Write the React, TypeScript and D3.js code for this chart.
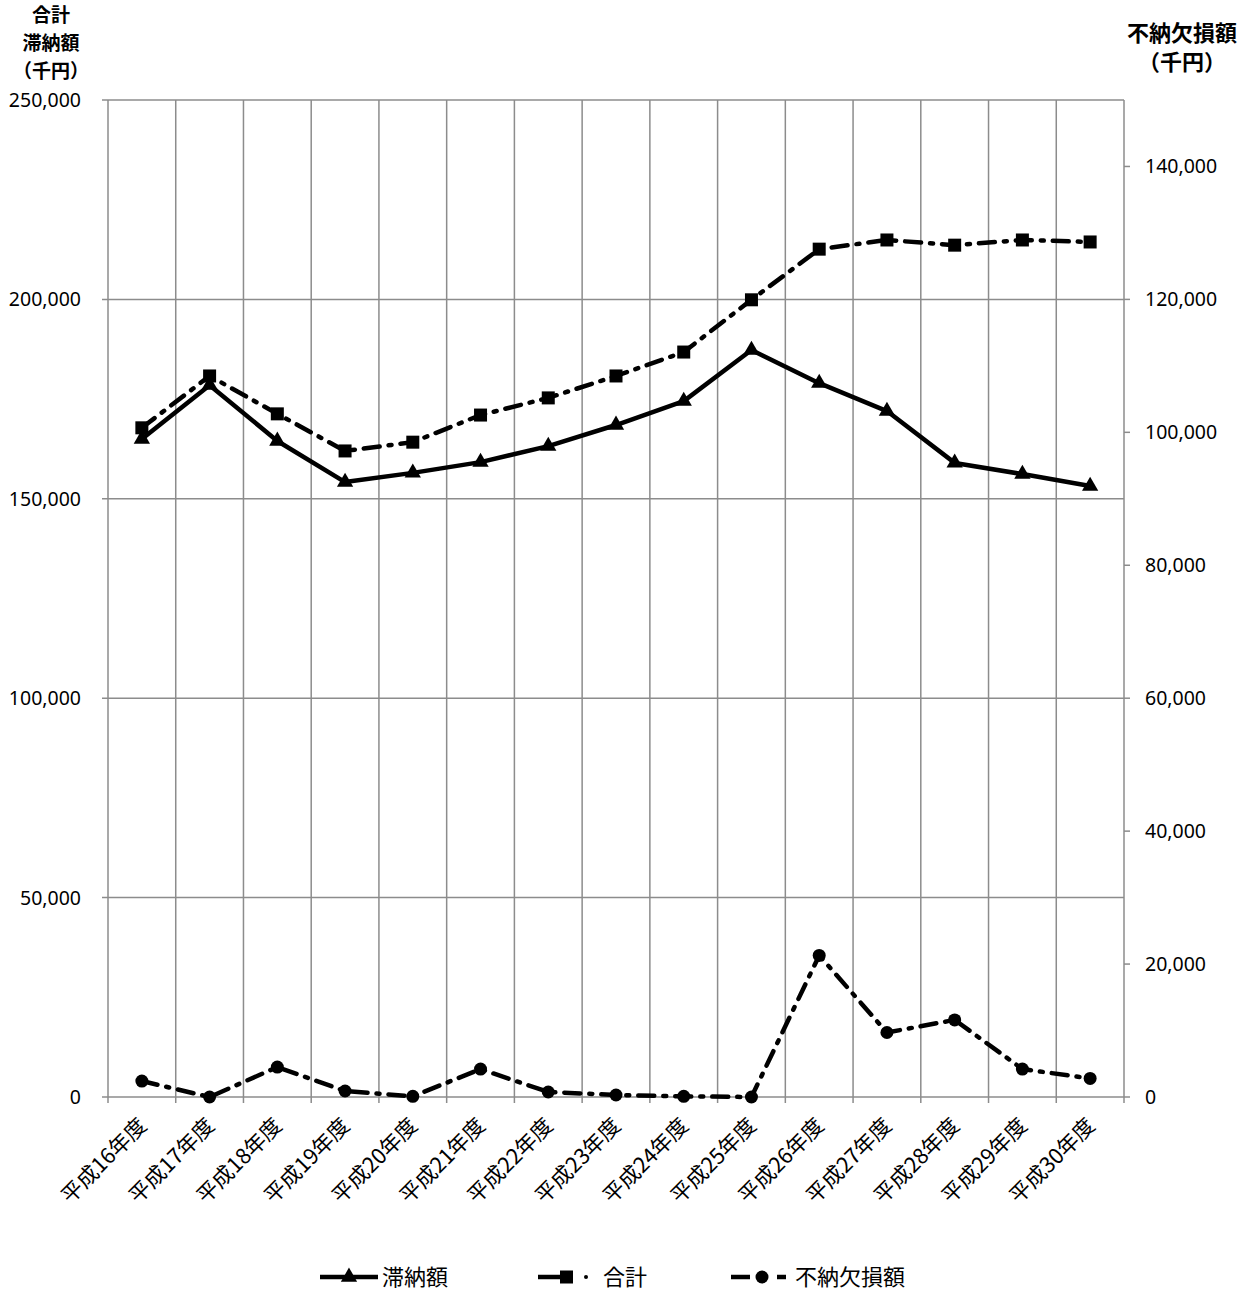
import { useEffect, useRef } from 'react';
import * as d3 from 'd3';

const categories = [
  '平成16年度', '平成17年度', '平成18年度', '平成19年度', '平成20年度',
  '平成21年度', '平成22年度', '平成23年度', '平成24年度', '平成25年度',
  '平成26年度', '平成27年度', '平成28年度', '平成29年度', '平成30年度',
];

// left axis (千円)
const tainou = [165000, 178500, 164500, 154200, 156500, 159200, 163200, 168500, 174500, 187300, 179000, 172000, 159000, 156200, 153200];
const goukei = [167800, 180800, 171300, 162000, 164200, 171000, 175300, 180800, 186800, 199900, 212600, 214900, 213600, 214900, 214400];
// right axis (千円)
const funou = [2400, 0, 4500, 900, 100, 4200, 750, 300, 100, 0, 21300, 9700, 11600, 4200, 2800];

const leftTicks = [0, 50000, 100000, 150000, 200000, 250000];
const rightTicks = [0, 20000, 40000, 60000, 80000, 100000, 120000, 140000];

const W = 1253;
const H = 1290;
const FONT = '"Noto Sans CJK JP", "Noto Sans", sans-serif';
const NUM_FONT = '"Noto Sans", sans-serif';

export default function App() {
  const svgRef = useRef<SVGSVGElement>(null);

  useEffect(() => {
    if (!svgRef.current) return;
    const svg = d3.select(svgRef.current);
    svg.selectAll('*').remove();

    const left = 108, right = 1124, top = 100, bottom = 1097;
    const grid = '#8c8c8c';

    const x = d3.scaleBand<string>().domain(categories).range([left, right]);
    const yL = d3.scaleLinear().domain([0, 250000]).range([bottom, top]);
    const yR = d3.scaleLinear().domain([0, 150000]).range([bottom, top]);
    const cx = (i: number) => (x(categories[i]) || 0) + x.bandwidth() / 2;
    const fmt = d3.format(',');

    // horizontal grid
    svg.append('g').selectAll('line').data(leftTicks).enter().append('line')
      .attr('x1', left - 6).attr('x2', right)
      .attr('y1', d => yL(d)).attr('y2', d => yL(d))
      .attr('stroke', grid).attr('stroke-width', 1.5);

    // vertical grid at category boundaries
    const bounds = categories.map(c => x(c) || 0).concat([right]);
    svg.append('g').selectAll('line').data(bounds).enter().append('line')
      .attr('x1', d => d).attr('x2', d => d)
      .attr('y1', top).attr('y2', bottom + 6)
      .attr('stroke', grid).attr('stroke-width', 1.5);

    // right ticks
    svg.append('g').selectAll('line').data(rightTicks).enter().append('line')
      .attr('x1', right).attr('x2', right + 6)
      .attr('y1', d => yR(d)).attr('y2', d => yR(d))
      .attr('stroke', grid).attr('stroke-width', 1.5);

    // left tick labels
    svg.append('g').selectAll('text').data(leftTicks).enter().append('text')
      .attr('x', 81).attr('y', d => yL(d)).attr('dy', '0.36em')
      .attr('text-anchor', 'end')
      .style('font-family', NUM_FONT).style('font-size', '19.5px').style('fill', '#000')
      .text(d => fmt(d));

    // right tick labels
    svg.append('g').selectAll('text').data(rightTicks).enter().append('text')
      .attr('x', 1145).attr('y', d => yR(d)).attr('dy', '0.36em')
      .attr('text-anchor', 'start')
      .style('font-family', NUM_FONT).style('font-size', '19.5px').style('fill', '#000')
      .text(d => fmt(d));

    // x labels
    svg.append('g').selectAll('text').data(categories).enter().append('text')
      .attr('transform', (d, i) => `translate(${cx(i) + 6},${bottom + 30}) rotate(-45)`)
      .attr('text-anchor', 'end')
      .style('font-family', FONT).style('font-size', '21.5px').style('fill', '#000')
      .text(d => d);

    // axis titles
    const ltitle = ['合計', '滞納額', '（千円）'];
    svg.append('g').selectAll('text').data(ltitle).enter().append('text')
      .attr('x', 51).attr('y', (d, i) => 22 + i * 28)
      .attr('text-anchor', 'middle')
      .style('font-family', FONT).style('font-size', '19px').style('font-weight', 'bold')
      .text(d => d);
    const rtitle = ['不納欠損額', '（千円）'];
    svg.append('g').selectAll('text').data(rtitle).enter().append('text')
      .attr('x', 1182).attr('y', (d, i) => 41 + i * 29)
      .attr('text-anchor', 'middle')
      .style('font-family', FONT).style('font-size', '22px').style('font-weight', 'bold')
      .text(d => d);

    const dashDot = '16,9,3,9';

    const lineL = d3.line<number>().x((d, i) => cx(i)).y(d => yL(d));
    const lineR = d3.line<number>().x((d, i) => cx(i)).y(d => yR(d));

    // 合計
    svg.append('path').datum(goukei).attr('d', lineL)
      .attr('fill', 'none').attr('stroke', '#000').attr('stroke-width', 4.5)
      .attr('stroke-dasharray', dashDot).attr('stroke-linecap', 'round');
    svg.append('g').selectAll('rect').data(goukei).enter().append('rect')
      .attr('x', (d, i) => cx(i) - 6.5).attr('y', d => yL(d) - 6.5)
      .attr('width', 13).attr('height', 13).attr('fill', '#000');

    // 滞納額
    svg.append('path').datum(tainou).attr('d', lineL)
      .attr('fill', 'none').attr('stroke', '#000').attr('stroke-width', 4.5)
      .attr('stroke-linejoin', 'round');
    const tri = d3.symbol().type(d3.symbolTriangle).size(115);
    svg.append('g').selectAll('path').data(tainou).enter().append('path')
      .attr('d', tri)
      .attr('transform', (d, i) => `translate(${cx(i)},${yL(d)})`)
      .attr('fill', '#000');

    // 不納欠損額
    svg.append('path').datum(funou).attr('d', lineR)
      .attr('fill', 'none').attr('stroke', '#000').attr('stroke-width', 4.5)
      .attr('stroke-dasharray', dashDot).attr('stroke-linecap', 'round');
    svg.append('g').selectAll('circle').data(funou).enter().append('circle')
      .attr('cx', (d, i) => cx(i)).attr('cy', d => yR(d)).attr('r', 6.5)
      .attr('fill', '#000');

    // legend
    const ly = 1277;
    const lg = svg.append('g');
    const txt = (xx: number, s: string) =>
      lg.append('text').attr('x', xx).attr('y', ly).attr('dy', '0.36em')
        .style('font-family', FONT).style('font-size', '22px').text(s);
    const seg = (x1: number, x2: number) =>
      lg.append('line').attr('x1', x1).attr('x2', x2).attr('y1', ly).attr('y2', ly)
        .attr('stroke', '#000').attr('stroke-width', 4.5);

    // 滞納額
    seg(320, 378);
    lg.append('path').attr('d', tri).attr('transform', `translate(349,${ly})`);
    txt(382, '滞納額');
    // 合計
    seg(538, 562);
    lg.append('rect').attr('x', 560).attr('y', ly - 6.5).attr('width', 13).attr('height', 13);
    lg.append('circle').attr('cx', 586).attr('cy', ly).attr('r', 2);
    txt(603, '合計');
    // 不納欠損額
    seg(731, 750);
    lg.append('circle').attr('cx', 762).attr('cy', ly).attr('r', 6.5);
    seg(777, 786);
    txt(795, '不納欠損額');
  }, []);

  return (
    <svg ref={svgRef} width={W} height={H}
      style={{ position: 'absolute', left: 0, top: 0, background: '#fff' }} />
  );
}
